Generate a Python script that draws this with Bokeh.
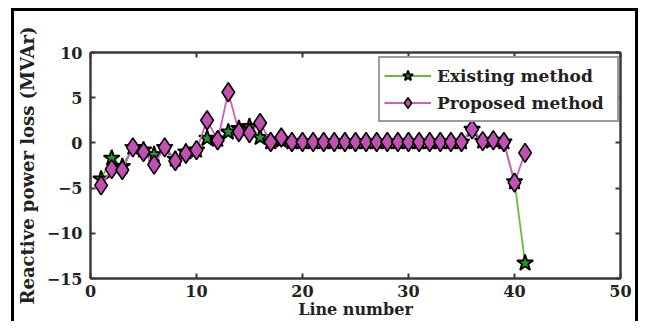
from bokeh.plotting import figure
from bokeh.models import LinearAxis, FixedTicker, Legend, LegendItem, ColumnDataSource
from bokeh.embed import file_html
from bokeh.resources import INLINE

line_number = list(range(1, 42))
existing = [-4.0, -1.7, -2.6, -0.5, -0.8, -1.3, -0.5, -1.8, -1.0, -0.8,
            0.5, 0.4, 1.2, 1.6, 1.8, 0.6, 0.1, 0.3, 0.1, 0.1,
            0.1, 0.1, 0.1, 0.1, 0.1, 0.1, 0.1, 0.1, 0.1, 0.1,
            0.1, 0.1, 0.1, 0.1, 0.1, 1.5, 0.2, 0.3, 0.1, -4.3,
            -13.3]
proposed = [-4.7, -2.9, -3.0, -0.5, -1.0, -2.4, -0.5, -2.0, -1.2, -0.8,
            2.5, 0.3, 5.6, 1.2, 1.1, 2.2, 0.1, 0.6, 0.1, 0.1,
            0.1, 0.1, 0.1, 0.1, 0.1, 0.1, 0.1, 0.1, 0.1, 0.1,
            0.1, 0.1, 0.1, 0.1, 0.1, 1.5, 0.2, 0.3, 0.1, -4.4,
            -1.1]
x_ticks = [0, 10, 20, 30, 40, 50]
y_ticks = [-15, -10, -5, 0, 5, 10]
series_names = ["Existing method", "Proposed method"]

FONT = "DejaVu Serif"
AX = "#3a3a3a"

p = figure(width=638, height=321, x_range=(0, 50), y_range=(-15, 10),
           output_backend="svg", toolbar_location=None,
           min_border_left=90, min_border_right=18, min_border_top=52, min_border_bottom=41)
# picture frame (left, top, right edges) drawn as the page background
g = "linear-gradient(#000,#000)"
p.styles = {
    "background": (f"{g} 11px 8px / 3px 100% no-repeat, "
                   f"{g} 11px 8px / 627px 3px no-repeat, "
                   f"{g} 635px 8px / 3px 100% no-repeat, white"),
}
p.border_fill_color = None
p.background_fill_color = "white"
p.outline_line_color = None
p.xgrid.visible = False
p.ygrid.visible = False


def style_axis(ax, ticks, show_labels):
    ax.ticker = FixedTicker(ticks=ticks)
    ax.minor_tick_line_color = None
    ax.major_tick_in = 5
    ax.major_tick_out = 0
    ax.major_tick_line_color = AX
    ax.major_tick_line_width = 2
    ax.axis_line_color = AX
    ax.axis_line_width = 2.5
    ax.major_label_text_font = FONT
    ax.major_label_text_font_style = "bold"
    if show_labels:
        ax.major_label_text_color = "#222222"
        ax.major_label_text_font_size = "16px"
        ax.major_label_standoff = 6
    else:
        ax.major_label_text_color = None
        ax.major_label_text_font_size = "1px"
        ax.major_label_standoff = 0


style_axis(p.xaxis[0], x_ticks, True)
style_axis(p.yaxis[0], y_ticks, True)
p.yaxis[0].major_label_standoff = 8
p.xaxis[0].axis_label = "Line number"
p.yaxis[0].axis_label = "Reactive power loss (MVAr)"
for ax, fs in ((p.xaxis[0], "16px"), (p.yaxis[0], "18px")):
    ax.axis_label_text_font = FONT
    ax.axis_label_text_font_style = "bold"
    ax.axis_label_text_font_size = fs
    ax.axis_label_text_color = "#222222"
    ax.axis_label_standoff = 6
p.xaxis[0].axis_label_standoff = 0

top = LinearAxis()
style_axis(top, x_ticks, False)
p.add_layout(top, "above")
right = LinearAxis()
style_axis(right, y_ticks, False)
p.add_layout(right, "right")

src = ColumnDataSource(dict(x=line_number, e=existing, pr=proposed))

l1 = p.line("x", "e", source=src, line_color="#5cc43a", line_width=1.8)
m1 = p.scatter("x", "e", source=src, marker="star", size=17,
               fill_color="#1f9a2a", line_color="black", line_width=1.8)
l2 = p.line("x", "pr", source=src, line_color="#d05cc4", line_width=1.8)
m2 = p.scatter("x", "pr", source=src, marker="diamond", size=19,
               fill_color="#c24fb2", line_color="black", line_width=1.6)

legend = Legend(items=[LegendItem(label=series_names[0], renderers=[l1, m1]),
                       LegendItem(label=series_names[1], renderers=[l2, m2])],
                location=(288, 156))
legend.label_text_font = FONT
legend.label_text_font_style = "bold"
legend.label_text_font_size = "17px"
legend.label_text_color = "#222222"
legend.glyph_width = 47
legend.glyph_height = 27
legend.label_height = 27
legend.label_width = 176
legend.label_standoff = 6
legend.padding = 4
legend.spacing = 0
legend.margin = 0
legend.border_line_color = AX
legend.border_line_width = 2
legend.background_fill_color = "white"
legend.background_fill_alpha = 1
p.add_layout(legend, "center")

open("out.html", "w").write(file_html(p, INLINE))
